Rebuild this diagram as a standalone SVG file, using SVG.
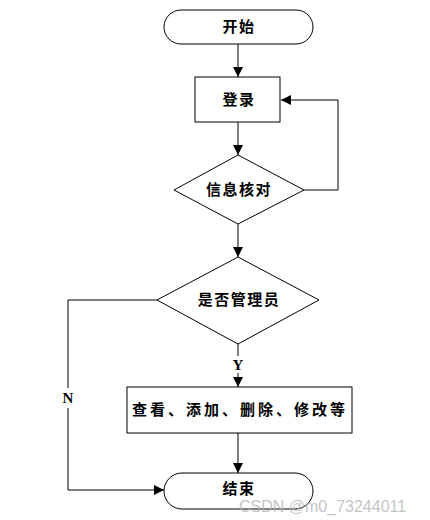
<svg xmlns="http://www.w3.org/2000/svg" width="430" height="520" viewBox="0 0 430 520">
<defs>
<style>
.s{fill:#fff;stroke:#000;stroke-width:1}
.c{fill:none;stroke:#000;stroke-width:1}
.t{font-family:"Liberation Serif","Noto Sans CJK SC",serif;font-size:15px;font-weight:bold;text-anchor:middle;dominant-baseline:central;letter-spacing:1.5px}
.l{font-family:"Liberation Serif",serif;font-size:15px;font-weight:bold;text-anchor:middle;dominant-baseline:central}
.w{font-family:"Liberation Sans","DejaVu Sans",sans-serif;font-size:16px;fill:#b4b4b4;fill-opacity:0.8}
</style>
<marker id="a" viewBox="0 0 10 10" refX="10" refY="5" markerWidth="10" markerHeight="10" markerUnits="userSpaceOnUse" orient="auto">
<path d="M0,0 L10,5 L0,10 z" fill="#000"/>
</marker>
</defs>
<rect width="430" height="520" fill="#fff"/>
<g id="connectors">
<line class="c" x1="238" y1="44" x2="238" y2="77" marker-end="url(#a)"/>
<line class="c" x1="238" y1="122" x2="238" y2="155" marker-end="url(#a)"/>
<polyline class="c" points="304,190 338,190 338,100 281,100" marker-end="url(#a)"/>
<line class="c" x1="238" y1="224" x2="238" y2="257" marker-end="url(#a)"/>
<line class="c" x1="238" y1="344" x2="238" y2="356"/>
<line class="c" x1="238" y1="373" x2="238" y2="387" marker-end="url(#a)"/>
<line class="c" x1="238" y1="433" x2="238" y2="473" marker-end="url(#a)"/>
<polyline class="c" points="157,300 68,300 68,388"/>
<polyline class="c" points="68,408 68,490 164,490" marker-end="url(#a)"/>
<text class="l" x="238" y="365">Y</text>
<text class="l" x="68" y="398">N</text>
</g>
<g id="start">
<rect class="s" x="164" y="10" width="149" height="34" rx="17" ry="17"/>
<text class="t" x="239" y="27">开始</text>
</g>
<g id="login">
<rect class="s" x="195" y="77" width="85" height="45"/>
<text class="t" x="239" y="100">登录</text>
</g>
<g id="verify">
<polygon class="s" points="238,155 304,190 238,224 174,190"/>
<text class="t" x="239" y="190">信息核对</text>
</g>
<g id="isadmin">
<polygon class="s" points="238,257 319,300 238,344 157,300"/>
<text class="t" x="239" y="300">是否管理员</text>
</g>
<g id="ops">
<rect class="s" x="127" y="387" width="225" height="46"/>
<text class="t" x="240" y="410" style="letter-spacing:3px">查看、添加、删除、修改等</text>
</g>
<g id="end">
<rect class="s" x="164" y="473" width="149" height="36" rx="18" ry="18"/>
<text class="t" x="239" y="489">结束</text>
</g>
<text class="w" x="239" y="512">CSDN @m0_73244011</text>
</svg>
